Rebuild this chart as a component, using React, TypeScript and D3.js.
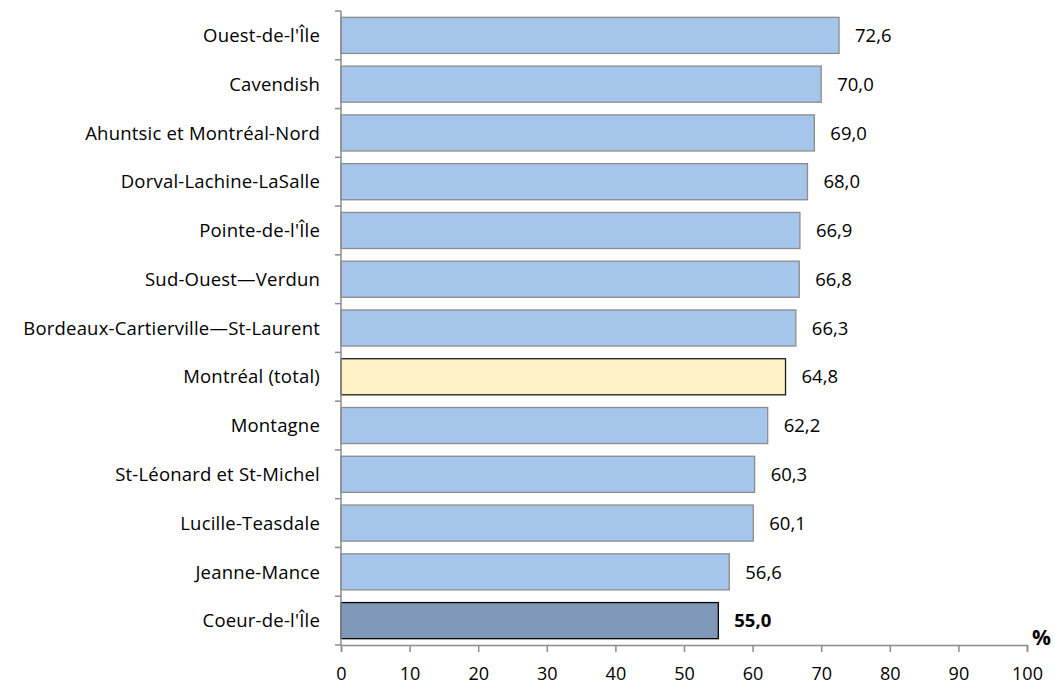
import React, { useEffect, useRef } from 'react';
import * as d3 from 'd3';

const categories = [
  "Ouest-de-l'Île",
  'Cavendish',
  'Ahuntsic et Montréal-Nord',
  'Dorval-Lachine-LaSalle',
  "Pointe-de-l'Île",
  'Sud-Ouest—Verdun',
  'Bordeaux-Cartierville—St-Laurent',
  'Montréal (total)',
  'Montagne',
  'St-Léonard et St-Michel',
  'Lucille-Teasdale',
  'Jeanne-Mance',
  "Coeur-de-l'Île",
];
const values = [72.6, 70.0, 69.0, 68.0, 66.9, 66.8, 66.3, 64.8, 62.2, 60.3, 60.1, 56.6, 55.0];
const xTicks = [0, 10, 20, 30, 40, 50, 60, 70, 80, 90, 100];

const FONT = "'Open Sans', 'Noto Sans', sans-serif";
const FS = '18.5px';

const App = () => {
  const chartRef = useRef<SVGSVGElement | null>(null);

  useEffect(() => {
    if (!chartRef.current) return;
    const svgRoot = d3.select(chartRef.current);
    svgRoot.selectAll('*').remove();

    const margin = { top: 11, right: 28, bottom: 40, left: 341 };
    const width = 1055 - margin.left - margin.right;
    const height = 685 - margin.top - margin.bottom;

    const svg = svgRoot.append('g').attr('transform', `translate(${margin.left},${margin.top})`);

    const x = d3.scaleLinear().domain([0, 100]).range([0, width]);
    const y = d3.scaleBand().domain(categories).range([0, height]).paddingInner(0.26).paddingOuter(0.13);

    const data = categories.map((c, i) => ({ cat: c, value: values[i] }));

    const fillFor = (c: string) =>
      c === 'Montréal (total)' ? '#FFF2C4' : c === "Coeur-de-l'Île" ? '#8099B8' : '#A6C5EB';
    const strokeFor = (c: string) =>
      c === 'Montréal (total)' ? '#1a1a1a' : c === "Coeur-de-l'Île" ? '#000000' : '#8c8c8c';

    // bars
    svg.selectAll('.bar')
      .data(data)
      .enter()
      .append('rect')
      .attr('x', 0)
      .attr('y', d => y(d.cat)!)
      .attr('width', d => x(d.value))
      .attr('height', y.bandwidth())
      .attr('fill', d => fillFor(d.cat))
      .attr('stroke', d => strokeFor(d.cat))
      .attr('stroke-width', 1.3);

    // value labels
    svg.selectAll('.val')
      .data(data)
      .enter()
      .append('text')
      .attr('x', d => x(d.value) + 16)
      .attr('y', d => y(d.cat)! + y.bandwidth() / 2)
      .attr('dy', '0.36em')
      .style('font-family', FONT)
      .style('font-size', FS)
      .style('font-weight', d => (d.cat === "Coeur-de-l'Île" ? 'bold' : 'normal'))
      .style('fill', '#000')
      .text(d => d.value.toFixed(1).replace('.', ','));

    const axisColor = '#8c8c8c';

    // y axis: line and ticks at category boundaries
    svg.append('line')
      .attr('x1', 0).attr('x2', 0)
      .attr('y1', 0).attr('y2', height)
      .attr('stroke', axisColor).attr('stroke-width', 1.5);
    const bounds = d3.range(categories.length + 1).map(i => i * (height / categories.length));
    svg.selectAll('.ytick')
      .data(bounds)
      .enter()
      .append('line')
      .attr('x1', -6).attr('x2', 0)
      .attr('y1', d => d).attr('y2', d => d)
      .attr('stroke', axisColor).attr('stroke-width', 1.5);

    // category labels
    svg.selectAll('.ylab')
      .data(categories)
      .enter()
      .append('text')
      .attr('x', -21)
      .attr('y', d => y(d)! + y.bandwidth() / 2)
      .attr('dy', '0.36em')
      .attr('text-anchor', 'end')
      .style('font-family', FONT)
      .style('font-size', FS)
      .style('letter-spacing', '0.2px')
      .style('fill', '#000')
      .text(d => d);

    // x axis
    const xAxis = svg.append('g')
      .attr('transform', `translate(0,${height})`)
      .call(d3.axisBottom(x).tickValues(xTicks).tickSize(7).tickPadding(15).tickFormat(d3.format('d')));
    xAxis.select('.domain').attr('stroke', axisColor).attr('stroke-width', 1.5);
    xAxis.selectAll('.tick line').attr('stroke', axisColor).attr('stroke-width', 1.5);
    xAxis.selectAll('.tick text')
      .style('font-family', FONT)
      .style('font-size', '18px')
      .style('fill', '#000');

    // unit label
    svg.append('text')
      .attr('x', width + 5)
      .attr('y', height)
      .style('font-family', FONT)
      .style('font-size', '21px')
      .style('font-weight', 'bold')
      .style('fill', '#000')
      .text('%');
  }, []);

  return (
    <svg
      ref={chartRef}
      width={1055}
      height={685}
      style={{ position: 'absolute', left: 0, top: 0, background: '#fff' }}
    />
  );
};

export default App;
